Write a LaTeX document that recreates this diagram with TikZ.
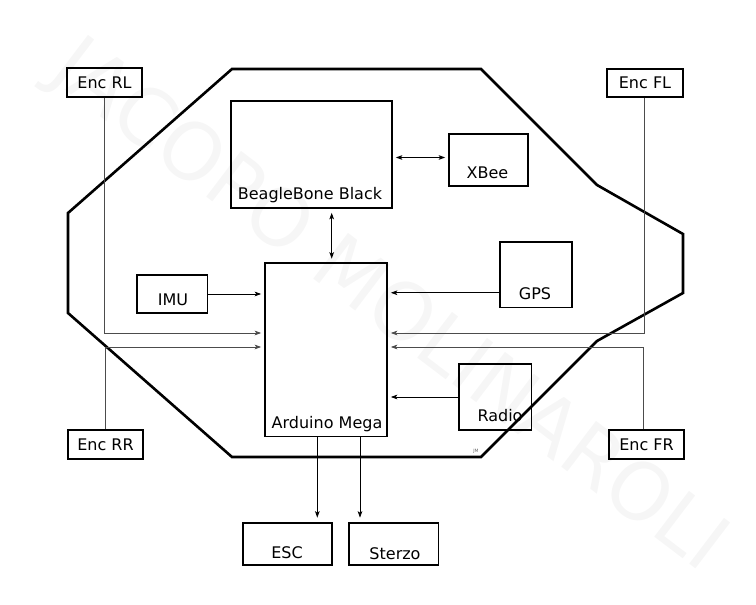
\documentclass[tikz,border=0pt]{standalone}
\usepackage{fontspec}
\setmainfont{DejaVu Sans}
\usetikzlibrary{arrows.meta,calc}
\begin{document}
\begin{tikzpicture}[x=1pt,y=-1pt,
 box/.style={draw, line width=1.6pt, inner sep=0pt, font=\fontsize{16}{18}\selectfont},
 lbl/.style={font=\fontsize{16}{18}\selectfont, inner sep=0pt, anchor=base},
 tip/.tip={Stealth[length=6.5pt,width=4.6pt,inset=1.5pt]},
 arr/.style={line width=0.9pt, -tip},
 darr/.style={line width=0.9pt, tip-tip},
 encarr/.style={line width=0.9pt, draw=black!70, -tip},
 hull/.style={line width=2.6pt, line join=miter}]
\useasboundingbox (0,0) rectangle (756,605);

% watermark
\node[rotate=-37.2, text=black!3.5, font=\fontsize{79}{82}\selectfont, inner sep=0pt, anchor=base] (wm) at (374.6,325.2) {JACOPO MOLINAROLI};

% chassis outline
\draw[hull] (232,69) -- (481,69) -- (597,185) -- (683,234) -- (683,293) -- (597,341)
  -- (481,457) -- (232,457) -- (68,313) -- (68,213) -- cycle;

% boxes
\node[box, minimum width=75pt, minimum height=29pt] (encrl) at (104.5,82.5) {Enc RL};
\node[box, minimum width=76pt, minimum height=28pt] (encfl) at (645,83) {Enc FL};
\node[box, minimum width=75pt, minimum height=29pt] (encrr) at (105.5,444.5) {Enc RR};
\node[box, minimum width=75pt, minimum height=29pt] (encfr) at (646.5,444.5) {Enc FR};
\node[box, minimum width=161pt, minimum height=107pt] (bbb) at (311.5,154.5) {};
\node[box, minimum width=79pt, minimum height=52pt] (xbee) at (488.5,160) {};
\node[box, minimum width=122pt, minimum height=173.5pt] (ard) at (326,349.75) {};
\node[box, minimum width=70.5pt, minimum height=38pt] (imu) at (172.25,294) {};
\node[box, minimum width=72pt, minimum height=65.5pt] (gps) at (536,274.75) {};
\node[box, minimum width=72.5pt, minimum height=66pt] (radio) at (495.25,397) {};
\node[box, minimum width=89pt, minimum height=42pt] (esc) at (287.5,544) {};
\node[box, minimum width=89.5pt, minimum height=42pt] (sterzo) at (393.75,544) {};

% labels at the bottom of the boxes
\node[lbl] (bbbt) at ($(bbb.south)+(-1.5,-9.5)$) {BeagleBone Black};
\node[lbl] (xbeet) at ($(xbee.south)+(-1,-8.5)$) {XBee};
\node[lbl] (ardt) at ($(ard.south)+(1,-8.5)$) {Arduino Mega};
\node[lbl] (imut) at ($(imu.south)+(0.75,-8)$) {IMU};
\node[lbl] (gpst) at ($(gps.south)+(-1,-9.2)$) {GPS};
\node[lbl] (radiot) at ($(radio.south)+(4.75,-9.3)$) {Radio};
\node[lbl] (esct) at ($(esc.south)+(-0.5,-7.8)$) {ESC};
\node[lbl] (sterzot) at ($(sterzo.south)+(1.25,-6.8)$) {Sterzo};

\node[font=\fontsize{4.5}{5}\selectfont, text=black!60, inner sep=0pt] (jm) at (476,451) {JM};

% connectors
\draw[darr, shorten >=3pt, shorten <=3pt] ($(bbb.east)+(0,3)$) -- ($(xbee.west)+(0,-2.5)$);
\draw[darr, shorten >=3.5pt, shorten <=4pt] ($(bbb.south)+(20.2,0)$) -- ($(ard.north)+(5.7,0)$);
\draw[arr, shorten >=3pt] (imu.east) -- (imu.east -| ard.west);
\coordinate (gpsout) at ($(gps.west)+(0,18)$);
\draw[arr, shorten >=3pt] (gpsout) -- (gpsout -| ard.east);
\draw[arr, shorten >=3pt] (radio.west) -- (radio.west -| ard.east);

\coordinate (rlin) at ($(ard.west)+(0,-16.75)$);
\coordinate (rrin) at ($(ard.west)+(0,-2.75)$);
\coordinate (flin) at ($(ard.east)+(0,-16.75)$);
\coordinate (frin) at ($(ard.east)+(0,-2.75)$);
\coordinate (frup) at ($(encfr.north)+(-3,0)$);
\coordinate (flup) at ($(encfl.south)+(-1,0)$);
\draw[encarr, shorten >=3pt] (encrl.south) |- (rlin);
\draw[encarr, shorten >=3pt] (encrr.north) |- (rrin);
\draw[encarr, shorten >=3pt] (flup) |- (flin);
\draw[encarr, shorten >=3pt] (frup) |- (frin);

\coordinate (escout) at ($(ard.south)+(-8.7,0)$);
\coordinate (sterout) at ($(ard.south)+(34,0)$);
\draw[arr, shorten >=4.5pt] (escout) -- (escout |- esc.north);
\draw[arr, shorten >=4.5pt] (sterout) -- (sterout |- sterzo.north);
\end{tikzpicture}
\end{document}
